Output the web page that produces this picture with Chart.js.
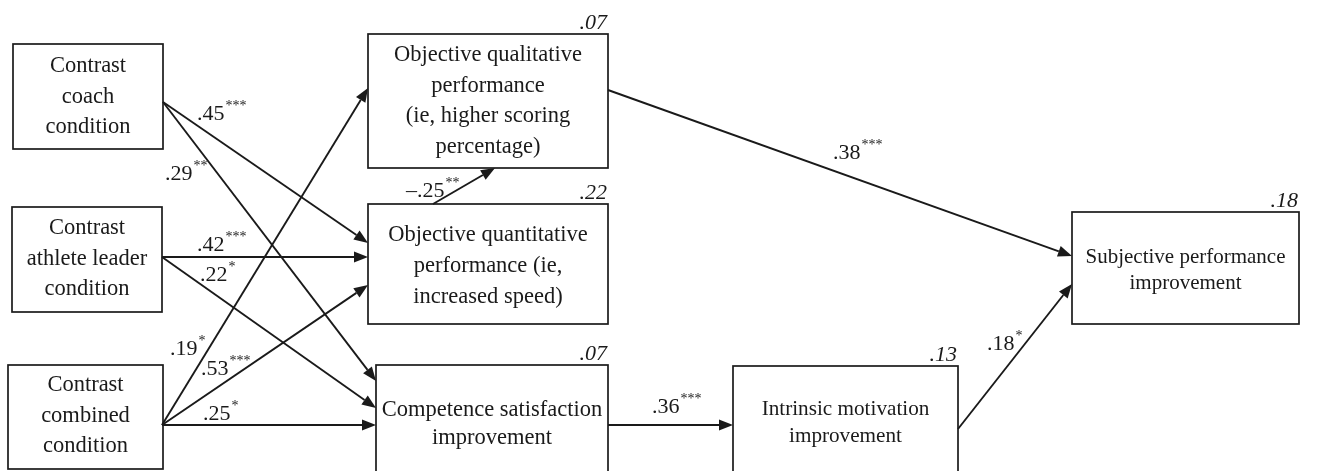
<!DOCTYPE html>
<html>
<head>
<meta charset="utf-8">
<script src="https://cdn.jsdelivr.net/npm/chart.js@4"></script>
<style>
  html, body { margin: 0; padding: 0; background: #fff; }
  #wrap { width: 1343px; height: 471px; position: relative; }
</style>
</head>
<body>
<div id="wrap"><canvas id="pathChart"></canvas></div>
<script>
// variables in the model
const nodeLabels = [
    ['Contrast', 'coach', 'condition'],
    ['Contrast', 'athlete leader', 'condition'],
    ['Contrast', 'combined', 'condition'],
    ['Objective qualitative', 'performance', '(ie, higher scoring', 'percentage)'],
    ['Objective quantitative', 'performance (ie,', 'increased speed)'],
    ['Competence satisfaction', 'improvement'],
    ['Intrinsic motivation', 'improvement'],
    ['Subjective performance', 'improvement']
];
// explained variance (R squared) per node
const rSquared = [null, null, null, .07, .22, .07, .13, .18];

// paths: from node, to node, coefficient, significance
const pathFrom  = [0, 0, 1, 1, 2, 2, 2, 4, 3, 5, 6];
const pathTo    = [4, 5, 4, 5, 3, 4, 5, 3, 7, 6, 7];
const pathBeta  = [.45, .29, .42, .22, .19, .53, .25, -.25, .38, .36, .18];
const pathStars = ['***', '**', '***', '*', '*', '***', '*', '**', '***', '***', '*'];

// layout (diagram units = scale values)
const boxes = [
    [13, 44, 163, 149], [12, 207, 162, 312], [8, 365, 163, 469],
    [368, 34, 608, 168], [368, 204, 608, 324], [376, 365, 608, 490],
    [733, 366, 958, 490], [1072, 212, 1299, 324]
];
const textCenterY = [97, 259, 416, 101, 266, 424, 423, 270];
const textSize = [22.5, 22.5, 22.5, 22.5, 22.5, 22.5, 21.2, 21];
const lineGap = [30.5, 30.5, 30.5, 30.5, 31, 28, 27, 26];
// start/end points of each path
const pathEnds = [
    [163, 102, 368, 243], [163, 102, 376, 381], [162, 257, 368, 257],
    [162, 257, 376, 408], [162, 425, 368, 88], [162, 425, 368, 285],
    [162, 425, 376, 425], [433, 204, 495, 168], [608, 90, 1072, 256],
    [608, 425, 733, 425], [958, 429, 1072, 284]
];
const labelPos = [
    [197, 120], [165, 180], [197, 251], [200, 281], [170, 355], [201, 375],
    [203, 420], [406, 197], [833, 159], [652, 413], [987, 350]
];

const serif = "'Liberation Serif', 'Times New Roman', serif";

function fmt(v) {
    const s = Math.abs(v).toFixed(2).replace(/^0/, '');
    return v < 0 ? '\u2013' + s : s;
}

const diagramPlugin = {
    id: 'diagram',
    afterDraw(chart) {
        const ctx = chart.ctx;
        const xs = chart.scales.x, ys = chart.scales.y;
        const px = v => xs.getPixelForValue(v);
        const py = v => ys.getPixelForValue(v);
        ctx.save();
        ctx.strokeStyle = '#1a1a1a';
        ctx.fillStyle = '#1a1a1a';

        // boxes
        ctx.lineWidth = 1.7;
        boxes.forEach(function (b, i) {
            ctx.strokeRect(px(b[0]), py(b[1]), px(b[2]) - px(b[0]), py(b[3]) - py(b[1]));
            ctx.font = textSize[i] + 'px ' + serif;
            ctx.textAlign = 'center';
            ctx.textBaseline = 'middle';
            const lines = nodeLabels[i];
            const lh = lineGap[i];
            const cx = (px(b[0]) + px(b[2])) / 2;
            const top = py(textCenterY[i]) - (lines.length - 1) * lh / 2;
            lines.forEach(function (t, k) { ctx.fillText(t, cx, top + k * lh); });
            if (rSquared[i] !== null) {
                ctx.font = 'italic 22px ' + serif;
                ctx.textAlign = 'right';
                ctx.textBaseline = 'alphabetic';
                ctx.fillText(fmt(rSquared[i]), px(b[2]) - 1, py(b[1]) - 5);
            }
        });

        // paths with arrow heads
        ctx.lineWidth = 1.9;
        pathEnds.forEach(function (e) {
            const x1 = px(e[0]), y1 = py(e[1]), x2 = px(e[2]), y2 = py(e[3]);
            const ang = Math.atan2(y2 - y1, x2 - x1);
            const len = 14, half = 5.5;
            const bx = x2 - len * Math.cos(ang), by = y2 - len * Math.sin(ang);
            ctx.beginPath();
            ctx.moveTo(x1, y1);
            ctx.lineTo(bx, by);
            ctx.stroke();
            ctx.beginPath();
            ctx.moveTo(x2, y2);
            ctx.lineTo(bx - half * Math.sin(ang), by + half * Math.cos(ang));
            ctx.lineTo(bx + half * Math.sin(ang), by - half * Math.cos(ang));
            ctx.closePath();
            ctx.fill();
        });

        // coefficients
        ctx.textAlign = 'left';
        ctx.textBaseline = 'alphabetic';
        pathBeta.forEach(function (v, i) {
            const x = px(labelPos[i][0]), y = py(labelPos[i][1]);
            ctx.font = '22px ' + serif;
            const t = fmt(v);
            ctx.fillText(t, x, y);
            const w = ctx.measureText(t).width;
            ctx.font = '14px ' + serif;
            ctx.fillText(pathStars[i], x + w + 1, y - 10);
        });
        ctx.restore();
    }
};

new Chart(document.getElementById('pathChart').getContext('2d'), {
    type: 'scatter',
    data: { datasets: [{ data: [] }] },
    options: {
        responsive: true,
        maintainAspectRatio: false,
        animation: false,
        layout: { padding: 0 },
        plugins: { legend: { display: false }, tooltip: { enabled: false } },
        scales: {
            x: { type: 'linear', min: 0, max: 1343, display: false },
            y: { type: 'linear', min: 0, max: 471, reverse: true, display: false }
        }
    },
    plugins: [diagramPlugin]
});
</script>
</body>
</html>
